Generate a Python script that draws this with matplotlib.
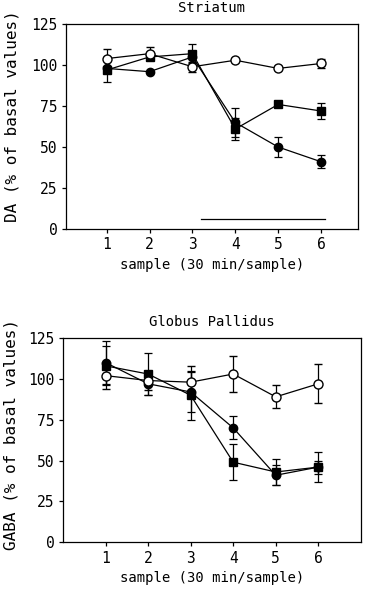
import matplotlib
matplotlib.use('Agg')
import matplotlib.pyplot as plt

samples = [1, 2, 3, 4, 5, 6]

# Striatum (DA)
da_control = [104, 107, 99, 103, 98, 101]
da_control_err = [6, 4, 3, 0, 0, 3]
da_circle = [98, 96, 105, 65, 50, 41]
da_circle_err = [0, 0, 0, 9, 6, 4]
da_square = [97, 105, 107, 61, 76, 72]
da_square_err = [7, 0, 6, 7, 0, 5]

# Globus Pallidus (GABA)
gaba_control = [102, 99, 98, 103, 89, 97]
gaba_control_err = [8, 6, 10, 11, 7, 12]
gaba_circle = [110, 97, 92, 70, 41, 46]
gaba_circle_err = [13, 7, 12, 7, 6, 9]
gaba_square = [108, 103, 90, 49, 43, 46]
gaba_square_err = [12, 13, 15, 11, 8, 4]

yticks = [0, 25, 50, 75, 100, 125]
font = 'DejaVu Sans Mono'

fig = plt.figure(figsize=(3.66, 5.90), dpi=100)
ax1 = fig.add_axes([0.180, 0.612, 0.798, 0.347])
ax2 = fig.add_axes([0.172, 0.081, 0.814, 0.346])


def draw(ax, ctrl, ctrl_e, circ, circ_e, sq, sq_e):
    kw = dict(color='black', lw=0.9, capsize=3, elinewidth=0.9, capthick=0.9)
    ax.errorbar(samples, sq, yerr=sq_e, marker='s', ms=6, mfc='black', mec='black', **kw)
    ax.errorbar(samples, circ, yerr=circ_e, marker='o', ms=6, mfc='black', mec='black', **kw)
    ax.errorbar(samples, ctrl, yerr=ctrl_e, marker='o', ms=6.5, mfc='white', mec='black', mew=1, **kw)
    ax.set_ylim(0, 125)
    ax.set_yticks(yticks)
    ax.set_xticks(samples)
    ax.tick_params(direction='out', length=3, width=0.9, labelsize=10.5, pad=3)
    for lab in ax.get_xticklabels() + ax.get_yticklabels():
        lab.set_family(font)
    for s in ax.spines.values():
        s.set_linewidth(0.9)
    ax.set_xlabel('sample (30 min/sample)', family=font, fontsize=10)


draw(ax1, da_control, da_control_err, da_circle, da_circle_err, da_square, da_square_err)
ax1.set_xlim(0.05, 6.86)
ax1.plot([3.2, 6.1], [6, 6], color='black', lw=0.9)
ax1.set_title('Striatum', family=font, fontsize=10, pad=9)
ax1.set_ylabel('DA (% of basal values)', family=font, fontsize=11.5)
ax1.yaxis.set_label_coords(-0.16, 0.55)

draw(ax2, gaba_control, gaba_control_err, gaba_circle, gaba_circle_err, gaba_square, gaba_square_err)
ax2.set_xlim(0.0, 7.0)
ax2.set_title('Globus Pallidus', family=font, fontsize=10, pad=9)
ax2.set_ylabel('GABA (% of basal values)', family=font, fontsize=11.5)
ax2.yaxis.set_label_coords(-0.148, 0.53)

fig.savefig('out.png', dpi=100)
